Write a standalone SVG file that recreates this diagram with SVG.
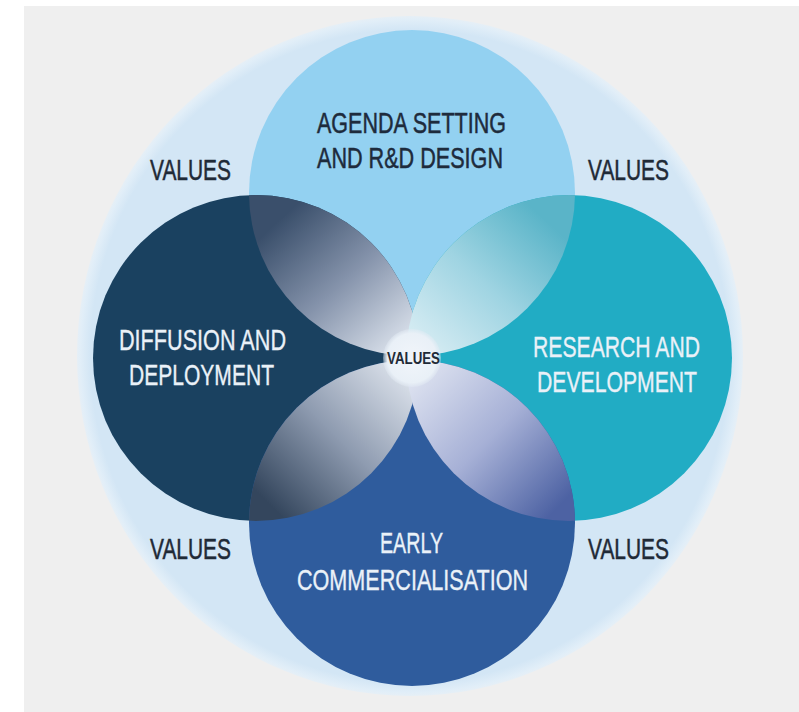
<svg xmlns="http://www.w3.org/2000/svg" width="799" height="712" viewBox="0 0 799 712">
  <style>
    .lbl { font-family: "Liberation Sans Narrow", "Liberation Sans", Arial, sans-serif; font-size: 29px; text-anchor: middle; stroke-width: 0.5px; }
    .dark { fill: #1e2b3c; stroke: #1e2b3c; }
    .light { fill: #eaf1f8; stroke: #eaf1f8; stroke-width: 0.35px; }
    .val { fill: #1f2a37; stroke: #1f2a37; }
  </style>
  <defs>
    <clipPath id="clipLeft"><circle cx="256" cy="358" r="163"/></clipPath>
    <clipPath id="clipRight"><circle cx="569" cy="358" r="163"/></clipPath>
    <linearGradient id="gTL" gradientUnits="userSpaceOnUse" x1="285" y1="215" x2="405" y2="345">
      <stop offset="0" stop-color="#3a4f6b"/>
      <stop offset="0.5" stop-color="#8593ab"/>
      <stop offset="1" stop-color="#dbe2ec"/>
    </linearGradient>
    <linearGradient id="gTR" gradientUnits="userSpaceOnUse" x1="540" y1="215" x2="420" y2="345">
      <stop offset="0" stop-color="#5ab4c8"/>
      <stop offset="0.5" stop-color="#9fd4e2"/>
      <stop offset="1" stop-color="#d6ecf3"/>
    </linearGradient>
    <linearGradient id="gBL" gradientUnits="userSpaceOnUse" x1="270" y1="505" x2="405" y2="370">
      <stop offset="0" stop-color="#34465d"/>
      <stop offset="0.5" stop-color="#8e9bb0"/>
      <stop offset="1" stop-color="#dde3ec"/>
    </linearGradient>
    <linearGradient id="gBR" gradientUnits="userSpaceOnUse" x1="420" y1="370" x2="560" y2="505">
      <stop offset="0" stop-color="#dde2f0"/>
      <stop offset="0.5" stop-color="#a6b0d6"/>
      <stop offset="1" stop-color="#4d62a3"/>
    </linearGradient>
    <radialGradient id="gCenter" cx="0.5" cy="0.5" r="0.5">
      <stop offset="0" stop-color="#f1f5fa"/>
      <stop offset="0.85" stop-color="#e9f0f7"/>
      <stop offset="1" stop-color="#e3ebf4" stop-opacity="0.4"/>
    </radialGradient>
    <radialGradient id="gOuter" cx="0.5" cy="0.5" r="0.5">
      <stop offset="0.96" stop-color="#d3e6f5"/>
      <stop offset="0.99" stop-color="#e1eef8"/>
      <stop offset="1" stop-color="#e6eff6"/>
    </radialGradient>
  </defs>

  <rect x="0" y="0" width="799" height="712" fill="#ffffff"/>
  <rect x="24" y="6" width="775" height="706" fill="#efefef"/>

  <g id="outer">
    <ellipse cx="410" cy="356" rx="333" ry="340" fill="url(#gOuter)"/>
  </g>

  <g id="agenda">
    <circle cx="412" cy="193" r="163" fill="#93d1f1"/>
  </g>
  <g id="diffusion">
    <circle cx="256" cy="358" r="163" fill="#1a4160"/>
  </g>
  <g id="research">
    <circle cx="569" cy="358" r="163" fill="#21acc4"/>
  </g>
  <g id="early">
    <circle cx="412" cy="523" r="163" fill="#2f5c9d"/>
  </g>

  <g id="overlaps">
    <circle cx="412" cy="193" r="163" fill="url(#gTL)" clip-path="url(#clipLeft)"/>
    <circle cx="412" cy="193" r="163" fill="url(#gTR)" clip-path="url(#clipRight)"/>
    <circle cx="412" cy="523" r="163" fill="url(#gBL)" clip-path="url(#clipLeft)"/>
    <circle cx="412" cy="523" r="163" fill="url(#gBR)" clip-path="url(#clipRight)"/>
  </g>

  <g id="labels-agenda">
    <text class="lbl dark" x="411.5" y="133" textLength="189" lengthAdjust="spacingAndGlyphs">AGENDA SETTING</text>
    <text class="lbl dark" x="410" y="168" textLength="186" lengthAdjust="spacingAndGlyphs">AND R&amp;D DESIGN</text>
  </g>
  <g id="labels-diffusion">
    <text class="lbl light" x="202.5" y="350" textLength="167" lengthAdjust="spacingAndGlyphs">DIFFUSION AND</text>
    <text class="lbl light" x="201.5" y="385" textLength="145" lengthAdjust="spacingAndGlyphs">DEPLOYMENT</text>
  </g>
  <g id="labels-research">
    <text class="lbl light" x="616.5" y="357" textLength="167" lengthAdjust="spacingAndGlyphs">RESEARCH AND</text>
    <text class="lbl light" x="617" y="392" textLength="160" lengthAdjust="spacingAndGlyphs">DEVELOPMENT</text>
  </g>
  <g id="labels-early">
    <text class="lbl light" x="411.5" y="553" textLength="63" lengthAdjust="spacingAndGlyphs">EARLY</text>
    <text class="lbl light" x="412.5" y="590" textLength="231" lengthAdjust="spacingAndGlyphs">COMMERCIALISATION</text>
  </g>

  <g id="values-tl"><text class="lbl val" x="190.5" y="180" textLength="81" lengthAdjust="spacingAndGlyphs">VALUES</text></g>
  <g id="values-tr"><text class="lbl val" x="628.5" y="180" textLength="81" lengthAdjust="spacingAndGlyphs">VALUES</text></g>
  <g id="values-bl"><text class="lbl val" x="190.5" y="559" textLength="81" lengthAdjust="spacingAndGlyphs">VALUES</text></g>
  <g id="values-br"><text class="lbl val" x="628.5" y="559" textLength="81" lengthAdjust="spacingAndGlyphs">VALUES</text></g>

  <g id="values-center">
    <circle cx="412" cy="358" r="29" fill="url(#gCenter)"/>
    <text x="413.5" y="364" font-family="'Liberation Sans Narrow', 'Liberation Sans', Arial, sans-serif" font-size="16" font-weight="bold" text-anchor="middle" fill="#1f2a37" textLength="53" lengthAdjust="spacingAndGlyphs">VALUES</text>
  </g>

  <g id="connectors"/>
</svg>
